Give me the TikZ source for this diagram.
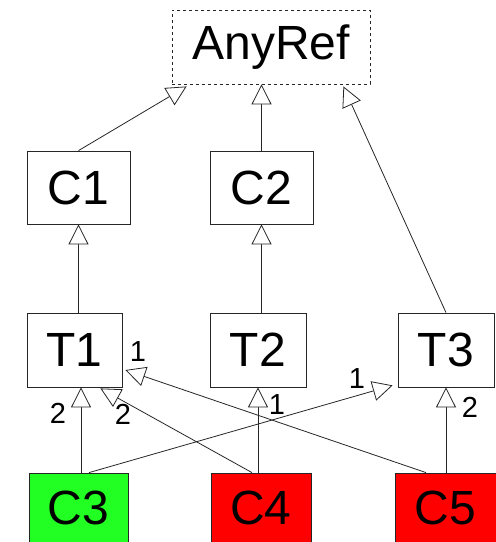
\documentclass[tikz,border=0pt]{standalone}
\usepackage{fontspec}
\setmainfont{Liberation Sans}
\usetikzlibrary{arrows.meta}
\definecolor{boxgreen}{RGB}{34,255,34}
\definecolor{boxred}{RGB}{255,0,0}
\begin{document}
\begin{tikzpicture}[x=1pt,y=-1pt,
  cls/.style={draw=black!85, line width=0.8pt, inner sep=0pt, font=\fontsize{48}{50}\selectfont},
  gen/.style={draw=black!85, line width=0.8pt, -{Triangle[length=20pt,width=20pt,fill=white,line width=0.8pt]}},
  lab/.style={font=\fontsize{29}{31}\selectfont, inner sep=0pt}]
\useasboundingbox (0,0) rectangle (496,542);
\node[cls, dashed, minimum width=198pt, minimum height=74pt] (anyref) at (271,47) {AnyRef};
\node[cls, minimum width=103pt, minimum height=73pt] (c1) at (78.5,187.5) {C1};
\node[cls, minimum width=103pt, minimum height=73pt] (c2) at (261.5,187.5) {C2};
\node[cls, minimum width=95pt, minimum height=74pt] (t1) at (74.5,350) {T1};
\node[cls, minimum width=96pt, minimum height=74pt] (t2) at (258,350) {T2};
\node[cls, minimum width=96pt, minimum height=74pt] (t3) at (446,350) {T3};
\node[cls, fill=boxgreen, minimum width=99pt, minimum height=70pt] (c3) at (78.5,508) {C3};
\node[cls, fill=boxred, minimum width=100pt, minimum height=70pt] (c4) at (261,508) {C4};
\node[cls, fill=boxred, minimum width=101pt, minimum height=70pt] (c5) at (445.5,508) {C5};
% to AnyRef
\draw[gen] (c1.north) -- ([xshift=15pt,yshift=-2pt]anyref.south west);
\draw[gen] (c2.north) -- (c2.north |- anyref.south);
\draw[gen] (t3.north) -- ([xshift=-27pt,yshift=-2pt]anyref.south east);
% T to C
\draw[gen] (c1.south |- t1.north) -- (c1.south);
\draw[gen] (t2.north -| c2.south) -- (c2.south);
% bottom row to T
\draw[gen] ([xshift=2.5pt]c3.north) -- ([xshift=2.5pt]c3.north |- t1.south);
\draw[gen] ([xshift=-9pt]c4.north) -- ([xshift=-22pt,yshift=-1pt]t1.south east);
\draw[gen] ([xshift=-3pt]c4.north) -- ([xshift=-3pt]c4.north |- t2.south);
\draw[gen] ([xshift=-19.5pt]c5.north) -- ([xshift=3pt,yshift=-20pt]t1.east);
\draw[gen] ([xshift=10.5pt]c3.north) -- ([xshift=-5pt,yshift=2pt]t3.south west);
\draw[gen] (t3.south |- c5.north) -- (t3.south);
% labels
\node[lab] (l1) at (58,413) {2};
\node[lab] (l2) at (123,414) {2};
\node[lab] (l3) at (138,352) {1};
\node[lab] (l4) at (357,379) {1};
\node[lab] (l5) at (277,405) {1};
\node[lab] (l6) at (470,407) {2};
\end{tikzpicture}
\end{document}
